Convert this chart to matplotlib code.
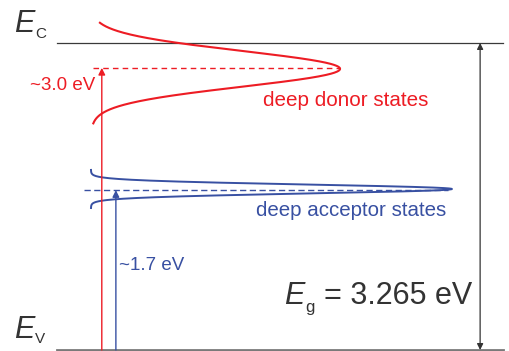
#!/usr/bin/env python
# coding: utf-8

"""Band diagram with deep donor / acceptor state distributions"""

import matplotlib.pyplot as pl
import numpy as np

pl.switch_backend("agg")
pl.rcParams["font.family"] = ["Liberation Sans", "DejaVu Sans"]

# energies in eV, measured from the valence band edge
e_gap = 3.265
e_donor = 3.0
e_acceptor = 1.7

# gaussian state distributions: centre (eV), width (eV), peak (arb.), range drawn (eV)
donor_centre, donor_sigma, donor_peak = 2.99, 0.19, 0.69
donor_range = (2.41, 3.48)
acceptor_centre, acceptor_sigma, acceptor_peak = 1.712, 0.047, 1.0
acceptor_range = (1.51, 1.915)

labels = {
    "donor": "deep donor states",
    "acceptor": "deep acceptor states",
    "donor_gap": "~3.0 eV",
    "acceptor_gap": "~1.7 eV",
    "gap": "= 3.265 eV",
}

red = "#ed1c24"
blue = "#3850a2"
dark = "#333333"

fig = pl.figure(figsize=(5.09, 3.51), dpi=100)
ax = fig.add_axes([0, 0, 1, 1])
ax.set_xlim(-0.252, 1.158)
ax.set_ylim(-0.0106, 3.722)
ax.axis("off")

# band edges
ax.plot([-0.094, 1.141], [e_gap, e_gap], color="#3a3a3a", lw=0.9)
ax.plot([-0.094, 1.141], [0, 0], color="#7a7a7a", lw=2.0)

# distributions
e = np.linspace(*donor_range, 400)
dos = donor_peak * np.exp(-0.5 * ((e - donor_centre) / donor_sigma) ** 2)
ax.plot(dos, e, color=red, lw=1.5)
e = np.linspace(*acceptor_range, 400)
dos = acceptor_peak * np.exp(-0.5 * ((e - acceptor_centre) / acceptor_sigma) ** 2)
ax.plot(dos, e, color=blue, lw=1.4)

# level markers
ax.plot([0.005, donor_peak], [e_donor, e_donor], color=red, lw=1.0,
        ls=(0, (4, 3)))
ax.plot([-0.02, acceptor_peak - 0.01], [e_acceptor, e_acceptor], color=blue,
        lw=1.0, ls=(0, (4.5, 2.5)))

# transition arrows
ax.annotate("", xy=(0.030, e_donor), xytext=(0.030, 0),
            arrowprops=dict(arrowstyle="-|>", color=red, lw=1.0,
                            mutation_scale=10, shrinkA=0, shrinkB=0))
ax.annotate("", xy=(0.069, e_acceptor), xytext=(0.069, 0),
            arrowprops=dict(arrowstyle="-|>", color=blue, lw=1.0,
                            mutation_scale=10, shrinkA=0, shrinkB=0))
ax.annotate("", xy=(1.078, e_gap), xytext=(1.078, 0.0),
            arrowprops=dict(arrowstyle="<|-|>", color=dark, lw=0.9,
                            mutation_scale=9, shrinkA=0, shrinkB=0))

# labels
ax.text(0.476, 2.595, labels["donor"], color=red, fontsize=14.9)
ax.text(0.458, 1.425, labels["acceptor"], color=blue, fontsize=14.8)
ax.text(-0.168, 2.76, labels["donor_gap"], color=red, fontsize=13.5)
ax.text(0.078, 0.851, labels["acceptor_gap"], color=blue, fontsize=13.5)

ax.text(-0.212, 3.382, "E", color=dark, fontsize=22, style="italic")
ax.text(-0.155, 3.318, "C", color=dark, fontsize=11)
ax.text(-0.212, 0.128, "E", color=dark, fontsize=22, style="italic")
ax.text(-0.155, 0.075, "V", color=dark, fontsize=11)

ax.text(0.535, 0.489, "E", color=dark, fontsize=22, style="italic")
ax.text(0.593, 0.40, "g", color=dark, fontsize=12)
ax.text(0.646, 0.489, labels["gap"], color=dark, fontsize=22)

pl.savefig("out.png", dpi=100)
pl.close()
